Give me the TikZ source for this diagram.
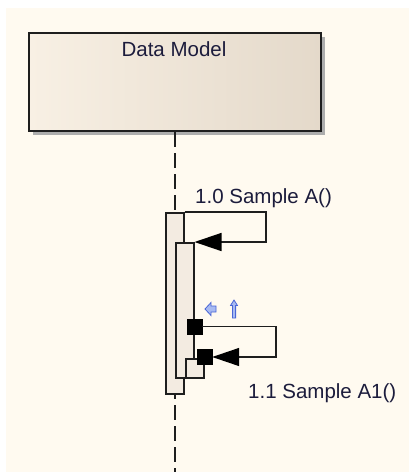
\documentclass[tikz,border=0pt]{standalone}
\usepackage{fontspec}
\setmainfont{Liberation Sans}
\usetikzlibrary{arrows.meta}
\definecolor{bgcream}{HTML}{FFFAF0}
\definecolor{boxL}{HTML}{F8F0E4}
\definecolor{boxR}{HTML}{E4D9CA}
\definecolor{actfill}{HTML}{F3EBE1}
\definecolor{edge}{HTML}{1E1E1E}
\definecolor{txt}{HTML}{1C1C3C}
\definecolor{iconfill}{HTML}{A8BAF2}
\definecolor{iconedge}{HTML}{4A66D6}
\tikzset{
  lifehead/.style={draw=edge, line width=2pt, left color=boxL, right color=boxR,
    minimum width=292pt, minimum height=98pt, inner sep=0pt, anchor=north west},
  actbox/.style={draw=edge, line width=1.5pt, fill=actfill, inner sep=0pt, anchor=north west},
  focus/.style={fill=black, draw=black, minimum width=15pt, minimum height=15pt, inner sep=0pt},
  msg/.style={draw=edge, line width=1.4pt},
  msgtip/.style={-{Triangle[length=27pt,width=18pt,color=black,fill=black]}},
  lbl/.style={text=txt, font=\fontsize{20.5}{24}\selectfont, inner sep=0pt},
  lifeline/.style={draw=edge, line width=1.8pt, dash pattern=on 15pt off 6pt},
  icon/.style={fill=iconfill, draw=iconedge, line width=0.8pt, line join=miter}
}
\begin{document}
\begin{tikzpicture}[x=1pt,y=-1pt]
\useasboundingbox (0,0) rectangle (409,472);
\fill[white] (0,0) rectangle (409,472);
\fill[bgcream] (6,8) rectangle (409,472);
% shadow of lifeline head
\fill[black!32] (33,37) rectangle (325,135);
\node[lifehead] (dm) at (28,32) {};
\node[lbl] (dmlabel) at (174,49) {Data Model};
% lifeline
\coordinate (llend) at (175,472);
\draw[lifeline] (dm.south) -- (llend);
% activations
\node[actbox, minimum width=18pt, minimum height=181pt] (a1) at (165,212) {};
\node[actbox, minimum width=18pt, minimum height=135pt] (a2) at (175,242) {};
\node[actbox, minimum width=18pt, minimum height=19pt] (a3) at (185,358) {};
% message 1.0
\coordinate (m1a) at (266,212);
\coordinate (m1b) at (266,242);
\draw[msg, msgtip] (a1.north east) -- (m1a) -- (m1b) -- (a2.east |- m1b);
\node[lbl, anchor=west] (l1) at (195,198) {1.0 Sample A()};
% focus squares
\node[focus] (sq1) at (194.5,326.5) {};
\node[focus] (sq2) at (204.5,357) {};
% message 1.1
\coordinate (m2a) at (276,326.5);
\coordinate (m2b) at (276,357);
\draw[msg, msgtip] (sq1.east) -- (m2a) -- (m2b) -- (sq2.east);
\node[lbl, anchor=west] (l2) at (248,393) {1.1 Sample A1()};
% navigation icons
\draw[icon] (205,309) -- (211,302.5) -- (211,306) -- (216,306) -- (216,312) -- (211,312) -- (211,315.5) -- cycle;
\draw[icon] (234,300) -- (237.5,305.5) -- (235.6,305.5) -- (235.6,318) -- (232.4,318) -- (232.4,305.5) -- (230.5,305.5) -- cycle;
\end{tikzpicture}
\end{document}
